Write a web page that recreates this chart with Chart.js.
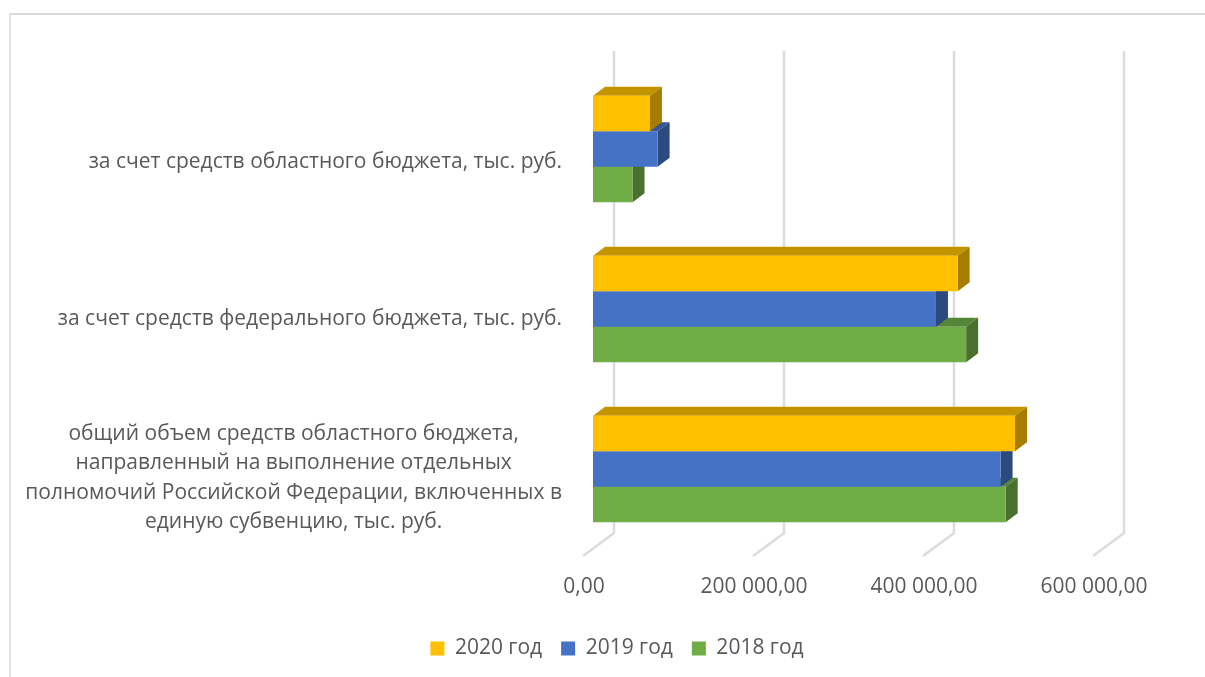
<html>
    <head>
        <title>Объем средств бюджета</title>
        <style>
            html,body{
                margin: 0;
                width: 1205px;
                height: 677px;
                overflow: hidden;
                background: #fff;
            }
            #frame{
                position: absolute;
                left: 9px;
                top: 13px;
                right: 0;
                bottom: 0;
                border-top: 2px solid #d9d9d9;
                border-left: 2px solid #e2e2e2;
            }
            canvas{
                position: absolute;
                left: 0;
                top: 0;
            }
        </style>
    </head>
    <body>
        <div id="frame"></div>
        <canvas id="budgetChart" width="1205" height="677"></canvas>
        <script src="https://cdn.jsdelivr.net/npm/chart.js@4"></script>
        <script>
            const categories = [
                ["за счет средств областного бюджета, тыс. руб."],
                ["за счет средств федерального бюджета, тыс. руб."],
                ["общий объем средств областного бюджета,",
                 "направленный на выполнение отдельных",
                 "полномочий Российской Федерации, включенных в",
                 "единую субвенцию, тыс. руб."]
            ];
            const values2020 = [67000, 429000, 496500];
            const values2019 = [76000, 403500, 479500];
            const values2018 = [46500, 439000, 485500];
            const tickLabels = ["0,00", "200 000,00", "400 000,00", "600 000,00"];

            const FONT = "'Open Sans', 'Noto Sans', sans-serif";
            const TEXT = "#595959";
            const DEPTH_X = 12, DEPTH_Y = 9;
            const LABEL_SHIFT = [13, 10, 9];

            function shade(hex, k) {
                let n = parseInt(hex.slice(1), 16);
                let c = [n >> 16, (n >> 8) & 255, n & 255].map(v => Math.round(v * k));
                return "rgb(" + c.join(",") + ")";
            }

            function face(ctx, pts, color) {
                ctx.fillStyle = color;
                ctx.beginPath();
                pts.forEach((p, i) => i ? ctx.lineTo(p[0], p[1]) : ctx.moveTo(p[0], p[1]));
                ctx.closePath();
                ctx.fill();
            }

            // office style 3d look: slanted grid lines, bar tops and sides, centered category labels
            const bars3d = {
                id: "bars3d",
                beforeDatasetsDraw(chart) {
                    let ctx = chart.ctx, x = chart.scales.x;
                    ctx.save();
                    ctx.strokeStyle = "#dcdcdc";
                    ctx.lineWidth = 2.5;
                    x.ticks.forEach(t => {
                        let px = x.getPixelForValue(t.value) + 21;
                        ctx.beginPath();
                        ctx.moveTo(px, 51);
                        ctx.lineTo(px, 533);
                        ctx.lineTo(px - 31, 556);
                        ctx.stroke();
                    });
                    ctx.restore();
                },
                beforeDatasetDraw(chart, args) {
                    let ctx = chart.ctx, color = chart.data.datasets[args.index].backgroundColor;
                    args.meta.data.forEach(bar => {
                        let p = bar.getProps(["x", "y", "base", "height"], true);
                        let t = p.y - p.height / 2, b = p.y + p.height / 2;
                        face(ctx, [[p.base, t], [p.base + DEPTH_X, t - DEPTH_Y], [p.x + DEPTH_X, t - DEPTH_Y], [p.x, t]], shade(color, 0.77));
                        face(ctx, [[p.x, t], [p.x + DEPTH_X, t - DEPTH_Y], [p.x + DEPTH_X, b - DEPTH_Y], [p.x, b]], shade(color, 0.65));
                    });
                },
                afterDraw(chart) {
                    let ctx = chart.ctx, y = chart.scales.y;
                    ctx.save();
                    ctx.font = "21px " + FONT;
                    ctx.fillStyle = TEXT;
                    ctx.textAlign = "center";
                    ctx.textBaseline = "middle";
                    chart.data.labels.forEach((lines, i) => {
                        let w = Math.max(...lines.map(l => ctx.measureText(l).width));
                        let cx = 562 - w / 2;
                        let top = y.getPixelForValue(i) + LABEL_SHIFT[i] - (lines.length - 1) * 29.6 / 2;
                        lines.forEach((l, j) => ctx.fillText(l, cx, top + j * 29.6));
                    });
                    ctx.restore();
                }
            };

            new Chart(document.getElementById("budgetChart").getContext("2d"), {
                type: "bar",
                plugins: [bars3d],
                data: {
                    labels: categories,
                    datasets: [
                        { label: "2020 год", data: values2020, backgroundColor: "#ffc000" },
                        { label: "2019 год", data: values2019, backgroundColor: "#4472c4" },
                        { label: "2018 год", data: values2018, backgroundColor: "#70ad47" }
                    ]
                },
                options: {
                    indexAxis: "y",
                    responsive: false,
                    animation: false,
                    devicePixelRatio: 1,
                    categoryPercentage: 0.666,
                    barPercentage: 1,
                    layout: { padding: { left: 131, right: 102, top: 69, bottom: 8 } },
                    scales: {
                        x: {
                            min: 0,
                            max: 600000,
                            grid: { display: false },
                            border: { display: false },
                            afterFit(s) { s.height = 70; },
                            ticks: {
                                stepSize: 200000,
                                maxRotation: 0,
                                autoSkip: false,
                                labelOffset: -9,
                                padding: 17,
                                color: TEXT,
                                font: { family: FONT, size: 21 },
                                callback: (v, i) => tickLabels[i]
                            }
                        },
                        y: {
                            grid: { display: false },
                            border: { display: false },
                            afterFit(s) { s.width = 462; },
                            ticks: { display: false }
                        }
                    },
                    plugins: {
                        tooltip: { enabled: false },
                        legend: {
                            position: "bottom",
                            labels: {
                                boxWidth: 14,
                                boxHeight: 14,
                                padding: 19,
                                color: TEXT,
                                font: { family: FONT, size: 21 }
                            }
                        }
                    }
                }
            });
        </script>
    </body>
</html>
